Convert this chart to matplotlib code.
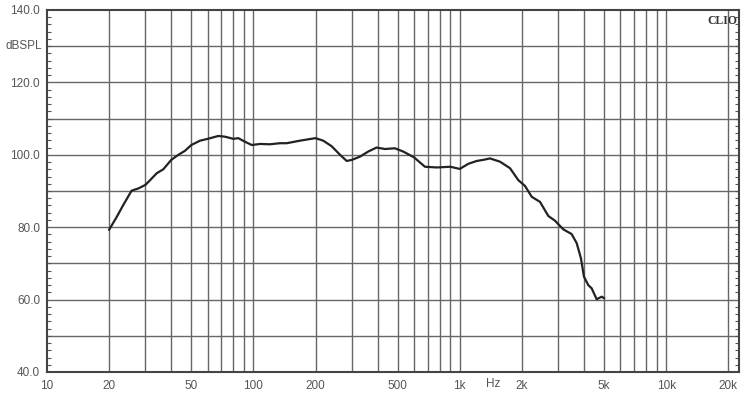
import matplotlib
matplotlib.use("Agg")
import matplotlib.pyplot as plt
import matplotlib.transforms as mtransforms
import numpy as np

freq_hz = [20, 21.8, 23.4, 25.7, 27.7, 30, 31.6, 34.0, 36.6, 40, 43.3, 46.6, 50, 55.1, 60,
           67.6, 72.9, 80, 84.5, 91.1, 98.2, 107.7, 120, 134.6, 145, 168, 200, 218, 239,
           263, 283, 300, 328.5, 360, 395, 434, 485, 532, 600, 678, 773, 900, 1000, 1098,
           1208, 1300, 1400, 1566, 1751, 1921, 2070, 2231, 2447, 2684, 2892, 3173, 3483,
           3684, 3864, 3997, 4194, 4356, 4603, 4870, 5000]
spl_db = [79.3, 82.9, 86.1, 90.1, 90.7, 91.7, 93.0, 94.9, 96.0, 98.6, 100.0, 101.1, 102.7,
          103.9, 104.4, 105.2, 105.0, 104.4, 104.6, 103.6, 102.7, 103.0, 102.9, 103.2, 103.2,
          103.9, 104.6, 103.9, 102.4, 100.0, 98.3, 98.6, 99.5, 100.9, 102.0, 101.6, 101.8,
          100.9, 99.3, 96.7, 96.5, 96.7, 96.1, 97.5, 98.3, 98.6, 99.0, 98.1, 96.3, 93.0,
          91.4, 88.4, 87.0, 83.1, 81.8, 79.4, 78.1, 75.6, 71.4, 66.3, 64.0, 63.1, 60.1,
          60.8, 60.4]

x_tick_vals = [10, 20, 50, 100, 200, 500, 1000, 2000, 5000, 10000, 20000]
x_tick_labels = ["10", "20", "50", "100", "200", "500", "1k", "2k", "5k", "10k", "20k"]
x_grid_vals = [20, 30, 40, 50, 60, 70, 80, 90, 100, 200, 300, 400, 500, 600, 700, 800, 900,
               1000, 2000, 3000, 4000, 5000, 6000, 7000, 8000, 9000, 10000, 20000]
y_tick_vals = [40, 60, 80, 100, 120, 140]
y_tick_labels = ["40.0", "60.0", "80.0", "100.0", "120.0", "140.0"]
y_grid_vals = [50, 60, 70, 80, 90, 100, 110, 120, 130]

plt.rcParams['font.family'] = ['Liberation Sans', 'DejaVu Sans']

fig = plt.figure(figsize=(7.48, 4.0), dpi=100)
ax = fig.add_axes([47/748, 1-372/400, (739-47)/748, (372-10)/400])
ax.set_xscale('log')
ax.set_xlim(10, 22530)
ax.set_ylim(40, 140)

grid_col = '#666666'
for gx in x_grid_vals:
    ax.axvline(gx, color=grid_col, lw=1.0, zorder=1)
for gy in y_grid_vals:
    ax.axhline(gy, color=grid_col, lw=1.0, zorder=1)

ax.plot(freq_hz, spl_db, color='#222222', lw=1.6, zorder=3)

for s in ax.spines.values():
    s.set_color('#444444')
    s.set_linewidth(1.5)

ax.set_xticks(x_tick_vals)
ax.set_xticklabels(x_tick_labels)
ax.xaxis.set_minor_locator(matplotlib.ticker.NullLocator())
ax.tick_params(axis='x', length=0, pad=6, labelsize=8.5, colors='#555555')

ax.set_yticks(y_tick_vals)
ax.set_yticklabels(y_tick_labels)
ax.set_yticks(np.arange(40, 141, 2), minor=True)
ax.tick_params(axis='y', which='major', length=0, pad=5, labelsize=8.5, colors='#555555')
ax.tick_params(axis='y', which='minor', direction='in', length=3, width=0.8,
               left=True, right=True, color='#555555')

hz_trans = mtransforms.offset_copy(ax.transData, fig=fig, x=0, y=-6*72/100, units='points')
ax.text(1450, 40, "Hz", transform=hz_trans, ha='center', va='top', fontsize=8.5,
        color='#555555', clip_on=False)

ax.text(-5/692, 130, "dBSPL", transform=mtransforms.blended_transform_factory(ax.transAxes, ax.transData),
        ha='right', va='center', fontsize=8.5, color='#555555')

ax.text(0.997, 0.985, "CLIO", transform=ax.transAxes, ha='right', va='top',
        fontsize=8.5, fontweight='bold', family='Liberation Serif', color='#333333', zorder=5)

fig.savefig("out.png", dpi=100, facecolor='white')
